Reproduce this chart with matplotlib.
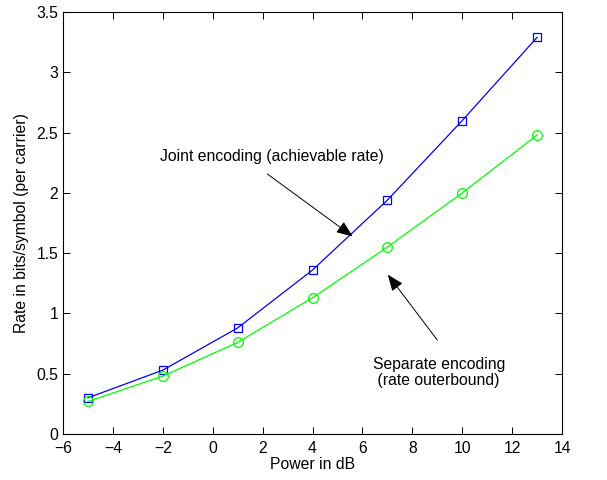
import matplotlib
matplotlib.use("Agg")
import matplotlib.pyplot as plt

plt.rcParams['font.family'] = ['Liberation Sans', 'DejaVu Sans']

power_db = [-5, -2, 1, 4, 7, 10, 13]
joint_rate = [0.30, 0.53, 0.88, 1.36, 1.94, 2.60, 3.29]
separate_rate = [0.27, 0.48, 0.76, 1.13, 1.55, 2.00, 2.48]

fs = 11.3

fig = plt.figure(figsize=(6.07, 4.8), dpi=100)
ax = fig.add_axes([0.1038, 0.0958, 0.8222, 0.8792])

ax.plot(power_db, joint_rate, color='#0000ff', lw=0.9, marker='s', ms=6,
        mfc='none', mec='#0000ff', mew=0.9)
ax.plot(power_db, separate_rate, color='#00ff00', lw=0.9, marker='o', ms=7,
        mfc='none', mec='#00ff00', mew=0.9)

ax.set_xlim(-6, 14)
ax.set_ylim(0, 3.5)
ax.set_xticks(range(-6, 15, 2))
ax.set_yticks([0, 0.5, 1, 1.5, 2, 2.5, 3, 3.5])
ax.set_xticklabels([str(v).replace('-', '\u2212') for v in range(-6, 15, 2)])
ax.set_yticklabels(['0', '0.5', '1', '1.5', '2', '2.5', '3', '3.5'])
ax.tick_params(direction='in', top=True, right=True, labelsize=fs, length=5, width=0.7)
ax.tick_params(axis='x', pad=5)
for s in ax.spines.values():
    s.set_linewidth(0.8)

ax.set_xlabel('Power in dB', fontsize=fs, labelpad=1)
ax.set_ylabel('Rate in bits/symbol (per carrier)', fontsize=fs, labelpad=5)

ax.annotate('', xy=(5.70, 1.625), xytext=(2.1, 2.17),
            arrowprops=dict(arrowstyle='-|>,head_length=1.0,head_width=0.4', color='black', lw=0.7))
ax.text(-2.11, 2.30, 'Joint encoding (achievable rate)', fontsize=fs, va='center', ha='left')

ax.annotate('', xy=(6.95, 1.34), xytext=(9.07, 0.76),
            arrowprops=dict(arrowstyle='-|>,head_length=1.0,head_width=0.4', color='black', lw=0.7))
ax.text(6.42, 0.51, 'Separate encoding\n (rate outerbound)', fontsize=fs, va='center', ha='left',
        linespacing=1.15)

fig.savefig('out.png', dpi=100)
